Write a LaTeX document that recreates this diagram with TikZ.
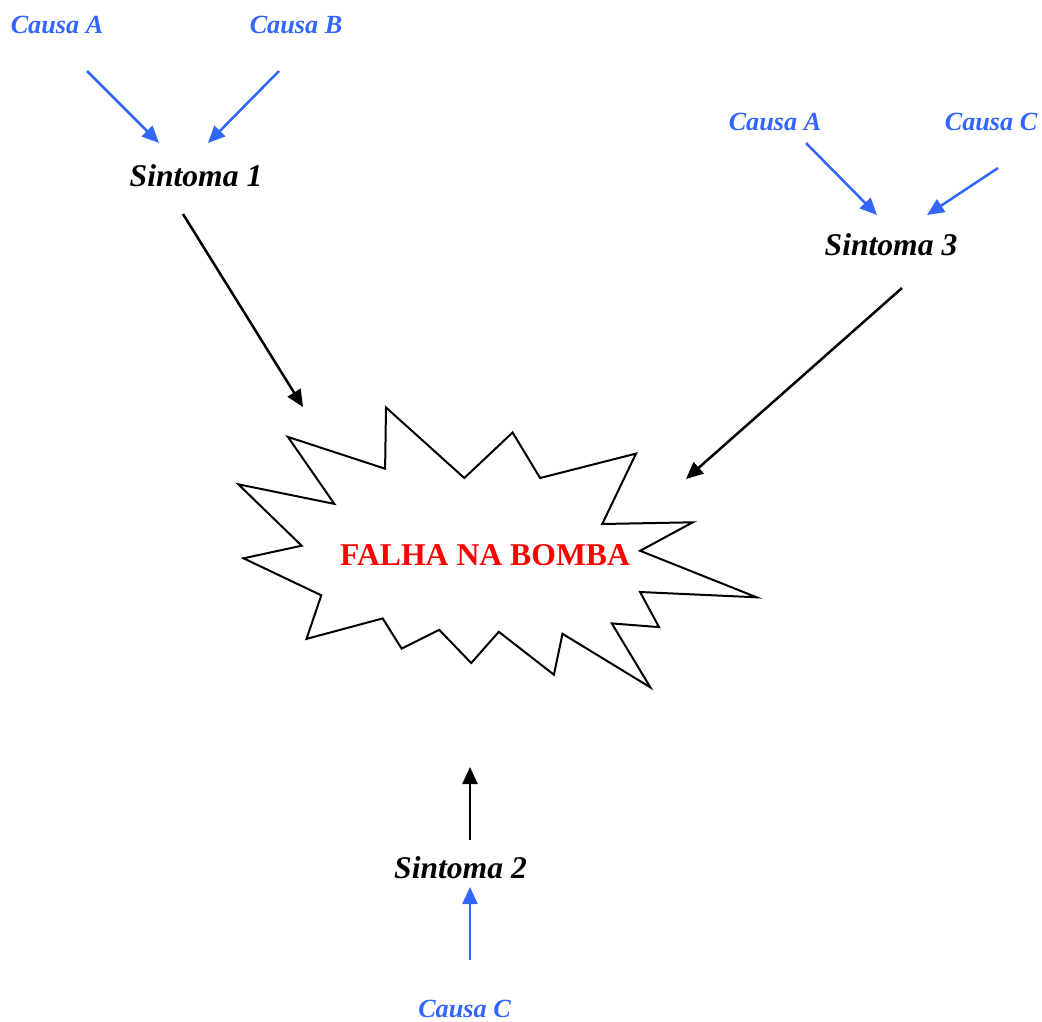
\documentclass[tikz,border=0pt]{standalone}
\usepackage{fontspec}
\setmainfont{Liberation Serif}
\usetikzlibrary{arrows.meta}
\definecolor{causeblue}{RGB}{51,102,255}
\definecolor{failred}{RGB}{255,0,0}
\begin{document}
\begin{tikzpicture}[x=1pt,y=-1pt,
  cause/.style={anchor=base,inner sep=0pt,text=causeblue,font=\fontsize{26.2}{28}\selectfont\bfseries\itshape},
  symptom/.style={anchor=base,inner sep=0pt,text=black,font=\fontsize{31.6}{34}\selectfont\bfseries\itshape},
  failure/.style={anchor=base,inner sep=0pt,text=failred,font=\fontsize{31.7}{34}\selectfont\bfseries},
  bluearrow/.style={draw=causeblue,line width=2.5pt,-{Triangle[length=17pt,width=15pt]}},
  blackarrow/.style={draw=black,line width=2.5pt,-{Triangle[length=17pt,width=15pt]}},
  burst/.style={draw=black,line width=2pt,line join=miter,fill=white}]
\useasboundingbox (0,0) rectangle (1042,1021);

% explosion outline around the failure label
\draw[burst] (386,407.5) -- (464.3,478) -- (512.6,432.5) -- (540.1,478)
  -- (636,453.6) -- (602.2,524) -- (692.8,522.3) -- (640.1,550.8)
  -- (756.7,597.3) -- (640.1,592) -- (659,627.1) -- (611.8,623.4)
  -- (650.4,687.4) -- (562.5,633.8) -- (553.9,674.7) -- (498.8,631.8)
  -- (471.2,663) -- (439.2,629.8) -- (401.6,648.6) -- (382.7,618.4)
  -- (306.5,638.9) -- (321.3,595.3) -- (243.5,558.3) -- (301.7,545.7)
  -- (238.3,484.3) -- (334.4,503.9) -- (287.9,436.9) -- (385.1,468.7)
  -- cycle;

% labels
\node[failure] (fail) at (485,565.7) {FALHA NA BOMBA};
\node[cause] (c1a) at (57,33) {Causa A};
\node[cause] (c1b) at (296,33) {Causa B};
\node[symptom] (s1) at (196,186) {Sintoma 1};
\node[cause] (c3a) at (775,130) {Causa A};
\node[cause] (c3c) at (991,130) {Causa C};
\node[symptom] (s3) at (891,255) {Sintoma 3};
\node[symptom] (s2) at (460.5,878) {Sintoma 2};
\node[cause] (c2c) at (464.5,1017) {Causa C};

% connector ends
\coordinate (c1a-out) at (87,71);
\coordinate (s1-inA) at (159,143);
\coordinate (c1b-out) at (279,71);
\coordinate (s1-inB) at (208,143);
\coordinate (c3a-out) at (806,143);
\coordinate (s3-inA) at (877,215);
\coordinate (c3c-out) at (998,168);
\coordinate (s3-inC) at (927,215);
\coordinate (s1-out) at (183,214);
\coordinate (fail-in1) at (303,407);
\coordinate (s3-out) at (902,288);
\coordinate (fail-in3) at (686,479);
\coordinate (s2-out) at (470,840);
\coordinate (fail-in2) at (470,767);
\coordinate (c2c-out) at (470,960);
\coordinate (s2-in) at (470,887);

% causes -> symptoms
\draw[bluearrow] (c1a-out) -- (s1-inA);
\draw[bluearrow] (c1b-out) -- (s1-inB);
\draw[bluearrow] (c3a-out) -- (s3-inA);
\draw[bluearrow] (c3c-out) -- (s3-inC);
\draw[bluearrow] (c2c-out) -- (s2-in);

% symptoms -> failure
\draw[blackarrow] (s1-out) -- (fail-in1);
\draw[blackarrow] (s3-out) -- (fail-in3);
\draw[blackarrow] (s2-out) -- (fail-in2);
\end{tikzpicture}
\end{document}
